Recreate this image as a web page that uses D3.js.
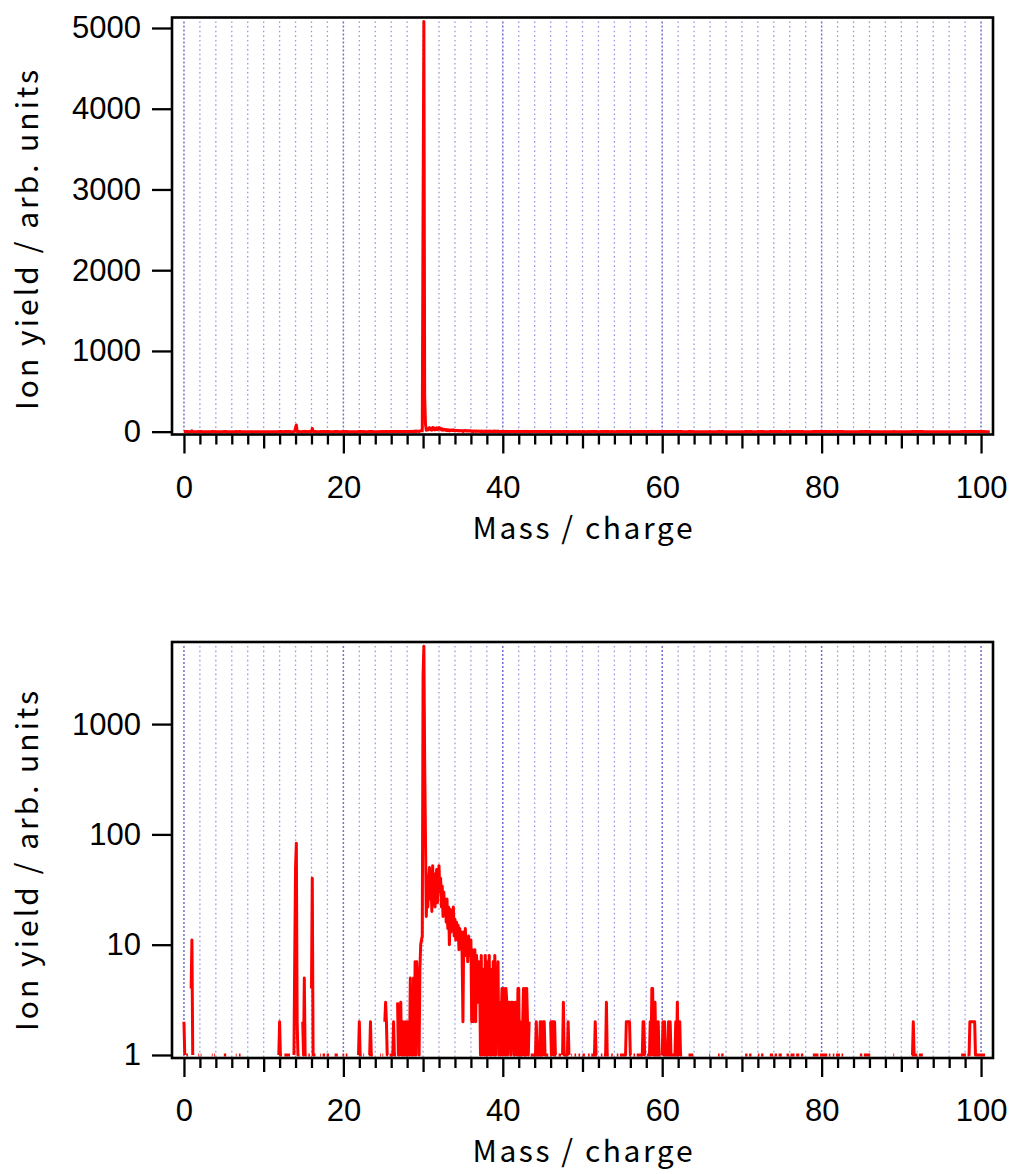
<!DOCTYPE html>
<html>
<head>
<meta charset="utf-8">
<script src="https://cdn.jsdelivr.net/npm/d3@7"></script>
<style>
  body { margin: 0; background: #ffffff; }
  svg { display: block; }
</style>
</head>
<body>
<svg id="chart" width="1016" height="1174"></svg>
<script>
// Time-of-flight mass spectrum, shown on a linear and a logarithmic intensity axis.
// Counts are stored as runs of consecutive 0.1 m/z bins: [first m/z, [counts...]].
// Bins that are not listed recorded no ions.
const binWidth = 0.1;
const massFirst = 0.0;
const massLast = 101.1;

const lightIonRuns = [
  [0.0, [2, 1, 0, 1, 1, 1, 0, 0, 0, 4, 11, 1]],
  [1.8, [1, 1, 0, 1, 1]],
  [3.5, [1, 1, 0, 1, 1]],
  [5.0, [1, 1, 1, 1]],
  [6.5, [1, 1, 0, 0, 1, 1, 1]],
  [11.9, [1, 2, 1, 1, 1, 0, 0, 1, 1, 1, 1, 1, 1, 1, 1]],
  [13.8, [1, 8, 50, 83, 2, 1, 1, 1, 0, 0, 0, 2, 1, 5, 1, 1, 1, 0, 1, 1, 1, 0, 4, 40, 1, 1, 1, 1]],
  [17.1, [1, 1, 0, 1, 1, 1, 1, 0, 1, 1, 1, 1]],
  [18.9, [1, 1, 1, 1, 1]],
  [19.9, [1, 1, 1, 0, 1, 1, 1]],
  [21.9, [1, 2, 1, 1, 1, 0, 1, 1]],
  [23.2, [1, 1, 2, 1, 1, 1]]
];

const parentRegionRuns = [
  [24.6, [1, 1, 0, 1]],
  [25.0, [1, 0, 2, 3, 2, 1, 1, 0, 1, 1]],
  [26.0, [1, 1, 1, 2, 1, 1, 1, 0, 3, 1]],
  [27.0, [1, 2, 3, 1, 1, 2, 1, 1, 2, 1]],
  [28.0, [2, 1, 2, 1, 5, 1, 4, 1, 5, 1]],
  [29.0, [7, 1, 7, 4, 6, 1, 6, 10, 11, 12]],
  [30.0, [2800, 5080, 440, 95, 18, 32, 22, 40, 50, 26]],
  [31.0, [38, 20, 52, 28, 44, 22, 30, 48, 24, 42]],
  [32.0, [52, 30, 40, 22, 34, 18, 30, 20, 26, 16]],
  [33.0, [26, 14, 22, 10, 21, 13, 20, 15, 22, 12]],
  [34.0, [17, 11, 16, 12, 15, 9, 14, 10, 13, 8]],
  [35.0, [2, 13, 9, 14, 8, 11, 7, 12, 8, 11]],
  [36.0, [11, 2, 9, 2, 8, 9, 2, 8, 6, 3]],
  [37.0, [7, 5, 1, 8, 1, 6, 2, 1, 8, 1]],
  [38.0, [7, 1, 3, 8, 1, 6, 1, 2, 7, 1]],
  [39.0, [8, 1, 6, 2, 7, 1, 3, 1, 2, 4]],
  [40.0, [1, 4, 2, 1, 4, 3, 1, 3, 2, 3]],
  [41.0, [1, 3, 2, 3, 1, 1, 3, 2, 1, 4]],
  [42.0, [4, 1, 2, 1, 1, 2, 4, 1, 4, 1]],
  [43.0, [4, 2, 1, 2, 0, 1, 1, 1, 1, 1]],
  [44.0, [1, 1, 2, 1, 1, 1, 1, 2, 1, 2]],
  [45.0, [1, 2, 2, 1, 1, 1, 1, 1, 0, 2]],
  [46.0, [2, 1, 2, 2, 1, 2, 1, 1, 0, 0]],
  [47.0, [1, 1, 1, 1, 0, 1, 3, 1, 1, 1]],
  [48.0, [1, 1, 2, 1, 0, 0, 1, 1, 0, 0]]
];

const heavyIonRuns = [
  [49.0, [1, 1, 1, 0, 0, 1, 1, 1, 0, 0, 1, 1, 1, 1]],
  [50.7, [1, 1, 1, 0, 1, 1, 1, 1, 1, 2, 1, 1]],
  [52.3, [1, 1, 1, 0, 1, 1, 1, 3, 1, 1, 1, 0, 0, 1, 1, 1]],
  [54.3, [1, 1, 1, 0, 1, 1, 1, 1, 1, 1, 1, 1, 2, 2, 2, 2, 2, 1, 1]],
  [56.4, [1, 1, 1, 0, 1, 1, 1, 1, 1, 1, 1, 1, 2, 2, 1, 1, 0]],
  [58.1, [1, 1, 1, 1, 2, 1, 4, 4, 1, 1, 3, 1, 2, 1, 2, 1, 1, 1, 0]],
  [60.0, [1, 2, 1, 2, 1, 1, 1, 1, 2, 1, 2, 1, 1, 1, 1, 1, 1, 2, 1, 3, 1, 2, 2, 1, 1, 1, 0]],
  [63.3, [1, 1, 1, 1, 1, 1, 1]],
  [65.9, [1, 1]],
  [67.0, [1, 1, 1, 0, 1, 1, 1, 1]],
  [70.4, [1, 1, 1, 1, 0, 1, 1, 1, 1]],
  [72.0, [1, 1, 1, 0, 1, 1, 1, 1]],
  [73.5, [1, 1, 1, 1, 1, 0, 1, 1, 1, 1, 0, 1, 1, 1, 1, 1]],
  [75.6, [1, 1, 1, 1, 0, 1, 1, 1, 1, 1, 1, 0, 1, 1, 1, 1, 1, 0, 1, 1, 1, 1]],
  [78.9, [1, 1, 1, 1, 1, 1, 1, 1, 0, 1, 1, 1, 1, 1, 1, 1, 1, 1, 1, 0, 1, 1, 1]],
  [81.4, [1, 1, 1, 0, 1, 1, 1, 1, 1, 1, 0, 1, 1, 1]],
  [84.8, [1, 1, 1, 1, 0, 1, 1, 1, 1, 1, 1, 1, 1, 1]],
  [89.0, [1, 1]],
  [91.3, [1, 1, 2, 1, 1, 1, 1, 1, 0, 1, 1, 1, 1, 1, 1]],
  [97.5, [1, 1, 1, 1, 1, 1, 1, 0, 1, 1, 1, 2, 2, 2, 2, 2, 2, 2, 1, 1, 1, 1, 1, 1, 1, 1, 1, 1, 1, 1, 1]]
];

const linearYTicks = [0, 1000, 2000, 3000, 4000, 5000];
const logYTicks = [1, 10, 100, 1000];
const massLabelTicks = [0, 20, 40, 60, 80, 100];
const xTitle = "Mass / charge";
const yTitle = "Ion yield / arb. units";

// Expand the runs onto the full bin grid.
const binCount = Math.round((massLast - massFirst) / binWidth) + 1;
const counts = new Array(binCount).fill(0);
[...lightIonRuns, ...parentRegionRuns, ...heavyIonRuns].forEach(([start, vals]) => {
  const i0 = Math.round((start - massFirst) / binWidth);
  vals.forEach((v, k) => { counts[i0 + k] = v; });
});
const spectrum = counts.map((c, i) => ({ mz: +(massFirst + i * binWidth).toFixed(1), count: c }));

const svg = d3.select("#chart");
const plotLeft = 172, plotRight = 993;
const x = d3.scaleLinear().domain([-1.5, 101.5]).range([plotLeft, plotRight]);

const minorMass = d3.range(0, 101, 2);
const mediumMass = d3.range(10, 101, 20);

const tickFont = "'Liberation Sans', Arial, sans-serif";
const titleFont = "'Noto Sans CJK JP', 'Noto Sans', sans-serif";

function drawPanel(cfg) {
  const { top, bottom, y, yTicks, yFormat, defined, id, titleCenter } = cfg;
  const g = svg.append("g");

  g.append("clipPath").attr("id", id)
    .append("rect").attr("x", plotLeft).attr("y", top)
    .attr("width", plotRight - plotLeft).attr("height", bottom - top);

  // dotted vertical grid every 2 m/z, stronger every 20
  g.append("g").selectAll("line").data(minorMass).join("line")
    .attr("x1", d => x(d)).attr("x2", d => x(d))
    .attr("y1", top + 4).attr("y2", bottom - 1)
    .attr("stroke", d => d % 20 === 0 ? "#6e6ed6" : "#9a9ae8")
    .attr("stroke-width", d => d % 20 === 0 ? 1.5 : 1.3)
    .attr("stroke-dasharray", d => d % 20 === 0 ? "2,2" : "1.6,3");

  // spectrum trace
  const line = d3.line()
    .defined(defined)
    .x(d => x(d.mz))
    .y(d => y(d.count));
  g.append("path")
    .datum(spectrum)
    .attr("clip-path", `url(#${id})`)
    .attr("fill", "none")
    .attr("stroke", "#ff0000")
    .attr("stroke-width", 3)
    .attr("stroke-linejoin", "round")
    .attr("d", line);

  // frame
  g.append("rect")
    .attr("x", plotLeft).attr("y", top)
    .attr("width", plotRight - plotLeft).attr("height", bottom - top)
    .attr("fill", "none").attr("stroke", "#000").attr("stroke-width", 2.6);

  // x axis: minor, medium and labelled ticks
  const xAxisG = (vals, size, labelled) => {
    const ax = d3.axisBottom(x).tickValues(vals).tickSize(size)
      .tickPadding(41 - size)
      .tickFormat(labelled ? d3.format("d") : () => "");
    const a = g.append("g").attr("transform", `translate(0,${bottom})`).call(ax);
    a.select(".domain").remove();
    a.selectAll(".tick line").attr("stroke", "#000").attr("stroke-width", 2.3);
    a.selectAll(".tick text").attr("fill", "#000")
      .style("font-family", tickFont).style("font-size", "31px");
  };
  xAxisG(minorMass.filter(d => d % 10 !== 0), 10, false);
  xAxisG(mediumMass, 14, false);
  xAxisG(massLabelTicks, 19, true);

  // y axis
  const ay = d3.axisLeft(y).tickValues(yTicks).tickSize(20).tickPadding(11).tickFormat(yFormat);
  const yg = g.append("g").attr("transform", `translate(${plotLeft},0)`).call(ay);
  yg.select(".domain").remove();
  yg.selectAll(".tick line").attr("stroke", "#000").attr("stroke-width", 2.3);
  yg.selectAll(".tick text").attr("fill", "#000")
    .style("font-family", tickFont).style("font-size", "31px");

  // titles
  g.append("text")
    .attr("x", (plotLeft + plotRight) / 2).attr("y", bottom + 104)
    .attr("text-anchor", "middle")
    .attr("textLength", 220).attr("lengthAdjust", "spacing")
    .style("font-family", titleFont).style("font-size", "30px").attr("fill", "#000")
    .text(xTitle);

  g.append("text")
    .attr("transform", `translate(37.5,${titleCenter}) rotate(-90)`)
    .attr("text-anchor", "middle")
    .attr("textLength", 340).attr("lengthAdjust", "spacing")
    .style("font-family", titleFont).style("font-size", "30px").attr("fill", "#000")
    .text(yTitle);
}

// Upper panel: linear intensity
const yLin = d3.scaleLinear().domain([-35, 5130]).range([434.5, 17.5]);
drawPanel({
  id: "clip-linear", top: 17.5, bottom: 434.5, y: yLin,
  yTicks: linearYTicks, yFormat: d3.format("d"),
  defined: () => true, titleCenter: 240
});

// Lower panel: logarithmic intensity (empty bins leave gaps)
const yLog = d3.scaleLog().domain([0.939, 5550]).range([1058, 642]);
drawPanel({
  id: "clip-log", top: 642, bottom: 1058, y: yLog,
  yTicks: logYTicks, yFormat: d3.format("d"),
  defined: d => d.count > 0, titleCenter: 861
});
</script>
</body>
</html>
